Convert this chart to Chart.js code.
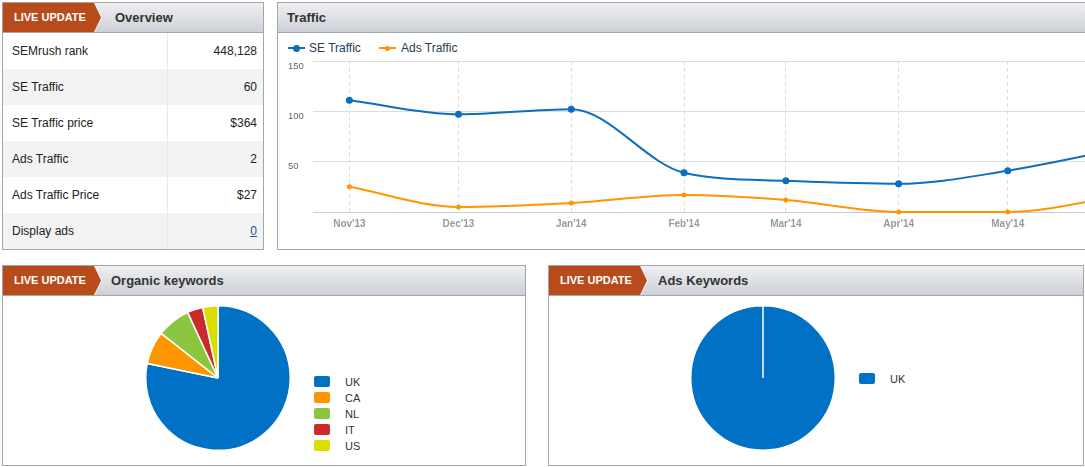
<!DOCTYPE html>
<html>
<head>
<meta charset="utf-8">
<script src="https://cdn.jsdelivr.net/npm/chart.js@4.4.1/dist/chart.umd.min.js"></script>
<style>
  body { margin: 0; width: 1085px; height: 467px; overflow: hidden; background: #fff;
         font-family: "Liberation Sans", Arial, sans-serif; position: relative; }
  .panel { position: absolute; border: 1px solid #a5a5a5; background: #fff; box-sizing: border-box; }
  .head { height: 30px; border-bottom: 1px solid #a3a7b0; box-sizing: border-box; position: relative;
          background: linear-gradient(#eef0f3, #cdd0d6); }
  .head .title { position: absolute; top: 0; line-height: 29px; font-weight: bold; font-size: 13px; color: #333; }
  .edge, .badge { position: absolute; left: 0; top: 0; height: 29px; }
  .edge { width: 99px; background: #f4f4f4; clip-path: polygon(0 0, 92px 0, 99px 50%, 92px 100%, 0 100%); }
  .badge { width: 98px; background: #b84b1b; clip-path: polygon(0 0, 91px 0, 98px 50%, 91px 100%, 0 100%);
           color: #fff; font-weight: bold; font-size: 11px; line-height: 29px; padding-left: 11px; box-sizing: border-box; }
  table { border-collapse: collapse; width: 100%; font-size: 12px; color: #222; }
  td { height: 36px; padding: 0; }
  td.k { width: 164px; padding-left: 9px; border-right: 1px solid #e8e8e8; box-sizing: border-box; }
  td.v { text-align: right; padding-right: 6px; }
  tr:nth-child(even) td { background: #f3f3f3; }
  a { color: #15539e; }
  .lg { position: absolute; font-size: 12px; color: #273d55; line-height: 14px; }
  .sym { position: absolute; left: 0; top: 6px; width: 17px; height: 2px; }
  .dot { position: absolute; border-radius: 50%; }
  .plg { position: absolute; font-size: 11px; color: #333; }
  .plg div { position: absolute; left: 0; height: 16px; line-height: 16px; white-space: nowrap; }
  .plg span { position: absolute; left: 0; top: 2px; width: 16px; height: 11px; border-radius: 2px; }
  .plg b { position: absolute; left: 31px; font-weight: normal; }
</style>
</head>
<body>

<div class="panel" style="left:2px;top:2px;width:262px;height:248px">
  <div class="head"><div class="edge"></div><div class="badge">LIVE UPDATE</div><div class="title" style="left:112px">Overview</div></div>
  <table id="overview"></table>
</div>

<div class="panel" style="left:277px;top:2px;width:920px;height:248px">
  <div class="head"><div class="title" style="left:9px">Traffic</div></div>
  <div class="lg" style="left:10px;top:38px"><span class="sym" style="background:#0b6ec0"></span><span class="dot" style="left:5px;top:4px;width:7px;height:7px;background:#0b6ec0"></span><span style="margin-left:21px">SE Traffic</span></div>
  <div class="lg" style="left:101px;top:38px"><span class="sym" style="background:#ff9600"></span><span class="dot" style="left:6px;top:5px;width:5px;height:5px;background:#ff9600"></span><span style="margin-left:22px">Ads Traffic</span></div>
  <canvas id="traffic" width="912" height="215" style="position:absolute;left:0;top:30px"></canvas>
</div>

<div class="panel" style="left:2px;top:265px;width:524px;height:201px">
  <div class="head"><div class="edge"></div><div class="badge">LIVE UPDATE</div><div class="title" style="left:108px">Organic keywords</div></div>
  <canvas id="organic" width="146" height="146" style="position:absolute;left:142px;top:39px"></canvas>
  <div class="plg" id="organicLegend" style="left:311px;top:108px"></div>
</div>

<div class="panel" style="left:548px;top:265px;width:536px;height:201px">
  <div class="head"><div class="edge"></div><div class="badge">LIVE UPDATE</div><div class="title" style="left:109px">Ads Keywords</div></div>
  <canvas id="adsPie" width="146" height="146" style="position:absolute;left:141px;top:39px"></canvas>
  <div class="plg" id="adsLegend" style="left:310px;top:105px"></div>
</div>

<script>
const overviewLabels = ['SEMrush rank', 'SE Traffic', 'SE Traffic price', 'Ads Traffic', 'Ads Traffic Price', 'Display ads'];
const overviewValues = ['448,128', '60', '$364', '2', '$27', '0'];

const monthLabels = ["Nov'13", "Dec'13", "Jan'14", "Feb'14", "Mar'14", "Apr'14", "May'14", "Jun'14"];
const monthDates = ['2013-11-01', '2013-12-01', '2014-01-01', '2014-02-01', '2014-03-01', '2014-04-01', '2014-05-01', '2014-06-01'];
const seTraffic = [111, 97, 102, 39, 31, 28, 41, 63];
const adsTraffic = [25, 5, 9, 17, 12, 0, 0, 16];

const organicCountries = ['UK', 'CA', 'NL', 'IT', 'US'];
const organicShares = [78.2, 7.4, 7.5, 3.5, 3.4];
const adsCountries = ['UK'];
const adsShares = [100];
const countryColors = { UK: '#0071c5', CA: '#ff9600', NL: '#8cc63f', IT: '#cb2a2c', US: '#dbdf00' };

// overview table
document.getElementById('overview').innerHTML = overviewLabels.map((k, i) => {
  const v = k === 'Display ads' ? '<a href="#">' + overviewValues[i] + '</a>' : overviewValues[i];
  return '<tr><td class="k">' + k + '</td><td class="v">' + v + '</td></tr>';
}).join('');

// traffic line chart (x in days so month spacing follows the calendar)
const t0 = Date.parse(monthDates[0]);
const days = monthDates.map(d => (Date.parse(d) - t0) / 864e5);

new Chart(document.getElementById('traffic'), {
  type: 'line',
  data: {
    datasets: [
      {
        label: 'SE Traffic',
        data: days.map((d, i) => ({ x: d, y: seTraffic[i] })),
        borderColor: '#0b6ec0', backgroundColor: '#0b6ec0',
        borderWidth: 2, pointRadius: 3.5, pointBorderWidth: 0,
        cubicInterpolationMode: 'monotone', clip: false
      },
      {
        label: 'Ads Traffic',
        data: days.map((d, i) => ({ x: d, y: adsTraffic[i] })),
        borderColor: '#ff9600', backgroundColor: '#ff9600',
        borderWidth: 2, pointRadius: 2.5, pointBorderWidth: 0,
        cubicInterpolationMode: 'monotone', clip: false
      }
    ]
  },
  options: {
    responsive: false,
    animation: false,
    layout: { padding: { left: 10, top: 28, right: 0, bottom: 0 } },
    scales: {
      x: {
        type: 'linear', min: -10, max: 230,
        afterBuildTicks: s => { s.ticks = days.map(v => ({ value: v })); },
        afterFit: s => { s.height = 36; },
        grid: { color: '#dddddd', drawTicks: false },
        border: { color: '#c0d0e0', dash: [4, 3] },
        ticks: {
          autoSkip: false, maxRotation: 0, padding: 6,
          color: '#999', font: { family: 'Liberation Sans', size: 10, weight: 'bold' },
          callback: v => monthLabels[days.indexOf(v)]
        }
      },
      y: {
        min: 0, max: 150,
        afterFit: s => { s.width = 25; },
        grid: { color: c => c.tick && c.tick.value === 0 ? 'rgba(0,0,0,0)' : '#dddddd', drawTicks: false },
        border: { display: false },
        ticks: {
          stepSize: 50, crossAlign: 'far', labelOffset: 5, padding: 0,
          color: '#666', font: { family: 'Liberation Sans', size: 9.5 },
          callback: v => v === 0 ? '' : v
        }
      }
    },
    plugins: { legend: { display: false }, tooltip: { enabled: false } }
  }
});

// pies
function pie(id, labels, values) {
  new Chart(document.getElementById(id), {
    type: 'pie',
    data: {
      labels: labels,
      datasets: [{
        data: values,
        backgroundColor: labels.map(c => countryColors[c]),
        borderColor: '#fff', borderWidth: 1.5, hoverOffset: 0
      }]
    },
    options: {
      responsive: false,
      animation: false,
      plugins: { legend: { display: false }, tooltip: { enabled: false } }
    }
  });
}

function pieLegend(id, labels) {
  document.getElementById(id).innerHTML = labels.map((c, i) =>
    '<div style="top:' + (i * 16) + 'px"><span style="background:' + countryColors[c] + '"></span><b>' + c + '</b></div>'
  ).join('');
}

pie('organic', organicCountries, organicShares);
pieLegend('organicLegend', organicCountries);
pie('adsPie', adsCountries, adsShares);
pieLegend('adsLegend', adsCountries);
</script>
</body>
</html>
